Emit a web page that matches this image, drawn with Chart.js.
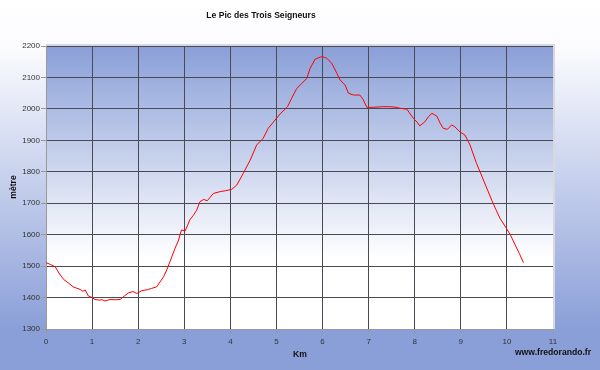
<!DOCTYPE html>
<html><head><meta charset="utf-8">
<script src="https://cdn.jsdelivr.net/npm/chart.js@4"></script>
<style>html,body{margin:0;padding:0;background:#fff}#wrap{width:600px;height:370px;position:relative}</style>
</head><body><div id="wrap"><canvas id="c" width="600" height="370"></canvas></div>
<script>
const chartTitle = "Le Pic des Trois Seigneurs";
const xTitle = "Km";
const yTitle = "mètre";
const credit = "www.fredorando.fr";
const kmValues = [0,0.1,0.2,0.28,0.38,0.48,0.59,0.66,0.74,0.8,
0.85,0.92,1.0,1.06,1.15,1.22,1.28,1.39,1.5,1.61,
1.7,1.79,1.89,1.97,2.08,2.2,2.29,2.4,2.55,2.62,
2.69,2.8,2.87,2.94,3.02,3.12,3.2,3.27,3.34,3.42,
3.5,3.63,3.78,3.9,4.03,4.14,4.28,4.43,4.57,4.71,
4.82,4.9,5.0,5.08,5.24,5.33,5.44,5.55,5.66,5.73,
5.84,5.92,5.98,6.04,6.09,6.2,6.31,6.38,6.49,6.56,
6.67,6.81,6.88,6.96,7.1,7.3,7.46,7.6,7.68,7.83,
7.97,8.05,8.11,8.22,8.3,8.37,8.48,8.55,8.62,8.71,
8.8,8.87,8.98,9.09,9.2,9.34,9.49,9.58,9.67,9.76,
9.85,9.99,10.08,10.18,10.27,10.36];
const elevValues = [1511,1505,1498,1478,1458,1447,1434,1430,1426,1420,
1424,1405,1400,1394,1392,1393,1389,1394,1393,1394,
1405,1415,1419,1413,1422,1425,1429,1434,1466,1488,
1514,1557,1580,1615,1612,1647,1662,1678,1705,1712,
1708,1731,1737,1740,1744,1758,1795,1837,1885,1906,
1938,1952,1970,1984,2007,2034,2065,2081,2097,2129,
2158,2163,2166,2164,2161,2145,2113,2092,2076,2050,
2044,2044,2030,2005,2005,2007,2007,2005,2002,1999,
1970,1958,1946,1959,1975,1986,1977,1955,1938,1935,
1949,1943,1927,1917,1885,1827,1774,1742,1710,1680,
1652,1620,1598,1567,1540,1511];
const xTicks = [0,1,2,3,4,5,6,7,8,9,10,11];
const yTicks = [1300,1400,1500,1600,1700,1800,1900,2000,2100,2200];

const points = kmValues.map((k,i)=>({x:k,y:elevValues[i]}));
const BLUE = 'rgb(138,159,216)';
const FONT = '"Liberation Sans", Arial, sans-serif';

const bgPlugin = {
  id:'bg',
  beforeDraw(chart){
    const {ctx, chartArea:a, width, height} = chart;
    ctx.save();
    let g = ctx.createLinearGradient(0,0,0,330);
    g.addColorStop(0,'#ffffff');
    g.addColorStop(0.15,'#fbfbfe');
    g.addColorStop(1,BLUE);
    ctx.fillStyle = g; ctx.fillRect(0,0,width,height);
    let g2 = ctx.createLinearGradient(0,a.top,0,a.bottom);
    g2.addColorStop(0,BLUE);
    g2.addColorStop(0.75,'#ffffff');
    g2.addColorStop(1,'#ffffff');
    ctx.fillStyle = g2; ctx.fillRect(a.left,a.top,a.right-a.left,a.bottom-a.top);
    ctx.restore();
  },
  afterDraw(chart){
    const {ctx, chartArea:a} = chart;
    ctx.save();
    ctx.strokeStyle = '#d8d8de'; ctx.lineWidth = 2;
    ctx.beginPath();
    ctx.moveTo(a.left, a.top-1); ctx.lineTo(a.right+1, a.top-1); ctx.lineTo(a.right+1, a.bottom);
    ctx.stroke();
    ctx.fillStyle = '#111';
    ctx.textAlign = 'center'; ctx.textBaseline = 'middle';
    ctx.font = 'bold 8.6px ' + FONT;
    ctx.fillText(chartTitle, 261, 16);
    ctx.fillText(xTitle, 300, 355);
    ctx.textAlign = 'right';
    ctx.fillText(credit, 591, 353);
    ctx.translate(14, 187); ctx.rotate(-Math.PI/2);
    ctx.textAlign = 'center';
    ctx.fillText(yTitle, 0, 0);
    ctx.restore();
  }
};

new Chart(document.getElementById('c'), {
  type:'line',
  data:{datasets:[{data:points, borderColor:'#ff0000', borderWidth:1, pointRadius:0, tension:0, fill:false}]},
  options:{
    responsive:false, animation:false, devicePixelRatio:1,
    layout:{padding:{left:0,right:47,top:46,bottom:0}},
    plugins:{legend:{display:false}, title:{display:false}, tooltip:{enabled:false}},
    scales:{
      x:{type:'linear', min:0, max:11,
        afterFit(s){ s.height = 41; },
        afterBuildTicks(s){ s.ticks = xTicks.map(v=>({value:v})); },
        ticks:{color:'#333', font:{family:FONT,size:8}, padding:3, maxRotation:0, callback:v=>String(v)},
        grid:{color:'#4a4a55', lineWidth:1, tickLength:5, tickColor:'#999'},
        border:{color:'#999', width:1}
      },
      y:{type:'linear', min:1300, max:2200,
        afterFit(s){ s.width = 46; },
        afterBuildTicks(s){ s.ticks = yTicks.map(v=>({value:v})); },
        ticks:{color:'#333', font:{family:FONT,size:8}, padding:1, callback:v=>String(v)},
        grid:{color:'#4a4a55', lineWidth:1, tickLength:5, tickColor:'#999'},
        border:{color:'#999', width:1}
      }
    }
  },
  plugins:[bgPlugin]
});
</script></body></html>
